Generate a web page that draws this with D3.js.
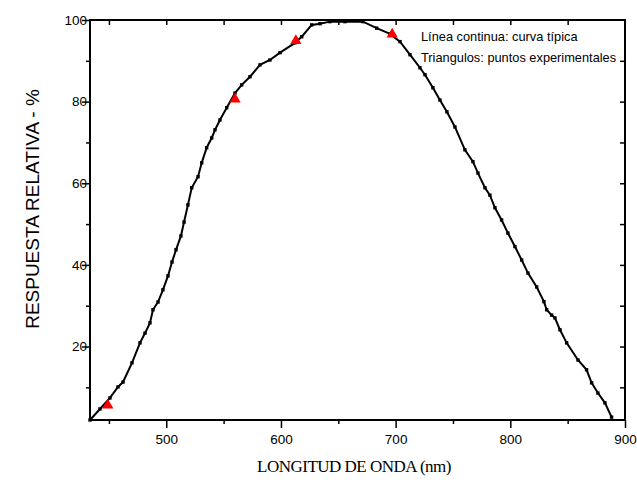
<!DOCTYPE html>
<html>
<head>
<meta charset="utf-8">
<script src="https://cdn.jsdelivr.net/npm/d3@7"></script>
<style>
  body { margin: 0; background: #fff; }
  svg { display: block; }
  .tick text { font-family: "Liberation Sans", Arial, sans-serif; font-size: 13.5px; fill: #000; }
</style>
</head>
<body>
<svg width="637" height="485"></svg>
<script>
// curve: wavelength (nm) and relative response (%)
const curveNm = [433.5, 442.2, 450.9, 457.9, 462.3, 470.1, 477.1, 481.5, 485.8, 488.4,
  492.8, 497.1, 501.5, 505.0, 508.5, 512.8, 515.5, 518.9, 522.2, 527.7,
  530.9, 535.2, 539.6, 542.5, 546.8, 552.7, 559.9, 565.8, 573.0, 581.7,
  590.4, 599.2, 612.2, 618.1, 626.8, 634.0, 642.7, 655.8, 671.5, 683.5,
  695.1, 703.8, 712.5, 721.2, 725.6, 732.5, 738.6, 744.7, 751.7, 760.4,
  767.4, 771.8, 777.9, 782.2, 786.6, 792.4, 797.9, 804.0, 809.9, 815.4,
  823.0, 829.3, 831.7, 836.0, 838.9, 843.3, 849.1, 859.0, 866.5, 870.9,
  876.4, 882.5, 888.3]
const curveVal = [2.0, 4.7, 7.4, 10.1, 11.3, 16.0, 20.9, 23.3, 25.8, 29.0,
  30.9, 33.9, 37.3, 40.7, 43.7, 47.1, 50.5, 54.7, 58.9, 61.6,
  65.0, 68.7, 71.1, 73.1, 75.5, 78.5, 82.1, 84.1, 86.1, 89.0,
  90.2, 92.0, 94.4, 95.9, 98.8, 99.1, 99.6, 99.6, 99.6, 98.0,
  96.6, 94.7, 91.5, 88.3, 86.6, 83.4, 80.4, 77.5, 73.8, 68.2,
  65.3, 62.5, 58.9, 57.1, 54.0, 51.0, 47.8, 44.5, 41.2, 38.0,
  34.6, 31.0, 29.0, 27.7, 27.0, 24.1, 20.9, 16.7, 14.3, 11.1,
  8.6, 6.2, 2.7]

// experimental points (triangles)
const expNm = [449, 560, 613, 697]
const expVal = [5.6, 80.6, 94.9, 96.5]

const xTicks = [450, 500, 550, 600, 650, 700, 750, 800, 850, 900]
const yTicks = [10, 20, 30, 40, 50, 60, 70, 80, 90, 100]

const legendLines = ["Línea continua: curva típica", "Triangulos: puntos experimentales"]

const svg = d3.select("svg")
const mLeft = 90, mRight = 625, mTop = 20, mBottom = 420

const x = d3.scaleLinear().domain([433.5, 900]).range([mLeft, mRight])
const y = d3.scaleLinear().domain([2, 100]).range([mBottom, mTop])

const curve = curveNm.map((d, i) => [d, curveVal[i]])
const pts = expNm.map((d, i) => [d, expVal[i]])

// line and markers
svg.append("path")
  .datum(curve)
  .attr("fill", "none")
  .attr("stroke", "#000")
  .attr("stroke-width", 2)
  .attr("d", d3.line().x(d => x(d[0])).y(d => y(d[1])))

svg.selectAll("rect.dot")
  .data(curve)
  .enter()
  .append("rect")
  .attr("class", "dot")
  .attr("x", d => x(d[0]) - 1.7)
  .attr("y", d => y(d[1]) - 1.7)
  .attr("width", 3.4)
  .attr("height", 3.4)
  .attr("fill", "#000")

svg.selectAll("path.tri")
  .data(pts)
  .enter()
  .append("path")
  .attr("class", "tri")
  .attr("d", d3.symbol().type(d3.symbolTriangle).size(55))
  .attr("transform", d => `translate(${x(d[0])}, ${y(d[1])})`)
  .attr("fill", "#ff0000")

// axes
const isMajorX = d => d % 100 === 0
const isMajorY = d => d % 20 === 0

const xAxis = svg.append("g")
  .attr("transform", `translate(0, ${mBottom})`)
  .call(d3.axisBottom(x).tickValues(xTicks).tickSizeOuter(0).tickPadding(4)
    .tickFormat(d => isMajorX(d) ? d : ""))
xAxis.selectAll(".tick line").attr("y2", d => isMajorX(d) ? 8 : 4).attr("stroke-width", 1.5)
xAxis.selectAll(".tick text").attr("y", 14)

const yAxis = svg.append("g")
  .attr("transform", `translate(${mLeft}, 0)`)
  .call(d3.axisLeft(y).tickValues(yTicks).tickSizeOuter(0).tickPadding(3)
    .tickFormat(d => isMajorY(d) ? d : ""))
yAxis.selectAll(".tick line").attr("x2", d => isMajorY(d) ? -8 : -4).attr("stroke-width", 1.5)
yAxis.selectAll(".tick text").attr("x", -3)

svg.append("g")
  .attr("transform", `translate(0, ${mTop})`)
  .call(d3.axisBottom(x).tickValues(xTicks.filter(d => d < 900)).tickSize(5).tickSizeOuter(0).tickFormat(""))
  .selectAll(".tick line").attr("stroke-width", 1.5)

svg.append("g")
  .attr("transform", `translate(${mRight}, 0)`)
  .call(d3.axisLeft(y).tickValues(yTicks.filter(d => d < 100)).tickSize(5).tickSizeOuter(0).tickFormat(""))
  .selectAll(".tick line").attr("stroke-width", 1.5)

svg.selectAll(".domain").remove()

svg.append("rect")
  .attr("x", mLeft)
  .attr("y", mTop)
  .attr("width", mRight - mLeft)
  .attr("height", mBottom - mTop)
  .attr("fill", "none")
  .attr("stroke", "#000")
  .attr("stroke-width", 2)

// legend text
svg.selectAll("text.legend")
  .data(legendLines)
  .enter()
  .append("text")
  .attr("class", "legend")
  .attr("x", 421)
  .attr("y", (d, i) => 41 + i * 21)
  .style("font-family", "Liberation Sans, Arial, sans-serif")
  .style("font-size", "12.8px")
  .text(d => d)

// axis titles
svg.append("text")
  .attr("x", 354)
  .attr("y", 472)
  .attr("text-anchor", "middle")
  .style("font-family", "Liberation Serif, Times New Roman, serif")
  .style("font-size", "17px")
  .style("letter-spacing", "-0.5px")
  .text("LONGITUD DE ONDA (nm)")

svg.append("text")
  .attr("transform", "translate(39, 209) rotate(-90)")
  .attr("text-anchor", "middle")
  .style("font-family", "Liberation Sans, Arial, sans-serif")
  .style("font-size", "19px")
  .text("RESPUESTA RELATIVA - %")
</script>
</body>
</html>
